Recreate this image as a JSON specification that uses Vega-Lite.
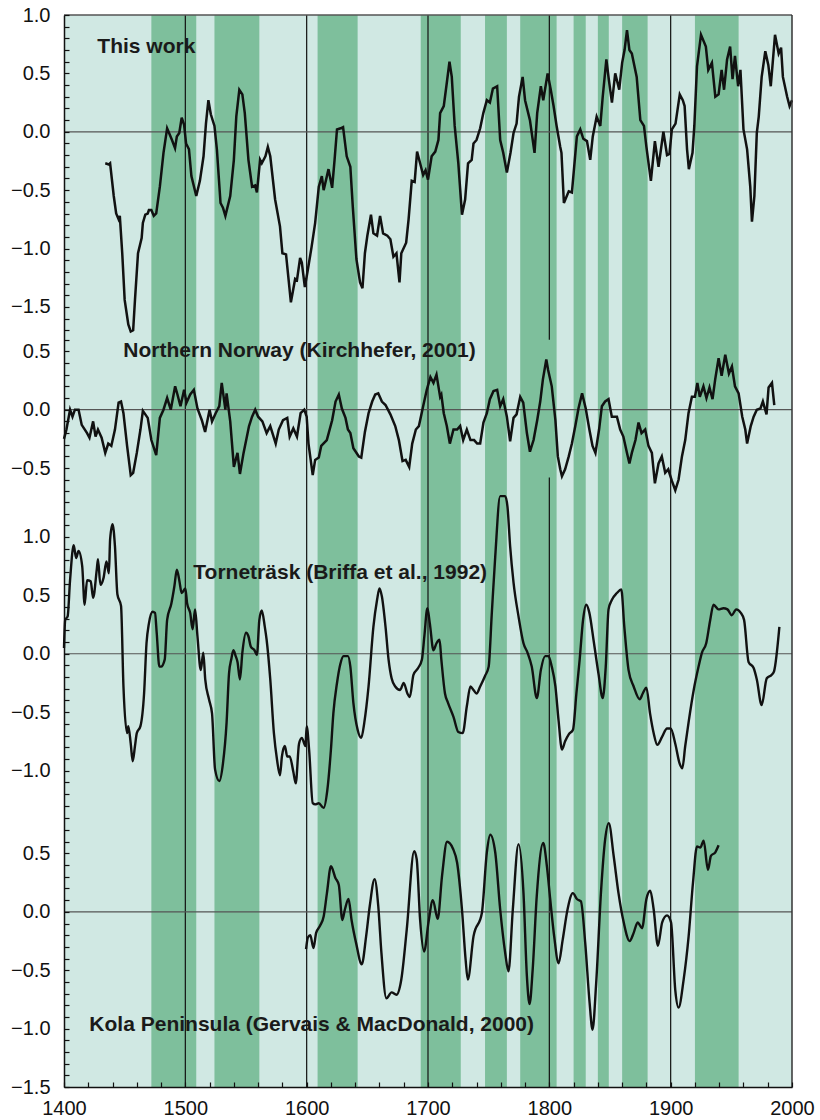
{
"$schema": "https://vega.github.io/schema/vega-lite/v6.json",
"width": 728, "height": 1072,
"autosize": {"type": "none"},
"padding": {"left": 64, "top": 15, "right": 28, "bottom": 33},
"background": "white",
"config": {"view": {"stroke": null, "fill": "#d0e8e3"}, "font": "Liberation Sans"},
"datasets": {
"bands": [{"year":1472,"year2":1509},{"year":1524,"year2":1561},{"year":1609,"year2":1642},{"year":1694,"year2":1727},{"year":1747,"year2":1765},{"year":1776,"year2":1806},{"year":1820,"year2":1830},{"year":1840,"year2":1849},{"year":1860,"year2":1881},{"year":1920,"year2":1956}],
"frame": [{"year":1400,"year2":2000}],
"s1": [{"year":1434,"v":-0.27},{"year":1437,"v":-0.28},{"year":1438,"v":-0.27},{"year":1441,"v":-0.55},{"year":1443,"v":-0.70},{"year":1445,"v":-0.75},{"year":1446,"v":-0.72},{"year":1448,"v":-1.04},{"year":1450,"v":-1.44},{"year":1453,"v":-1.65},{"year":1455,"v":-1.71},{"year":1457,"v":-1.70},{"year":1458.5,"v":-1.44},{"year":1461,"v":-1.04},{"year":1464,"v":-0.91},{"year":1465,"v":-0.78},{"year":1467,"v":-0.71},{"year":1469,"v":-0.70},{"year":1470,"v":-0.67},{"year":1472,"v":-0.67},{"year":1474,"v":-0.72},{"year":1476,"v":-0.70},{"year":1479,"v":-0.47},{"year":1482,"v":-0.18},{"year":1485,"v":0.03},{"year":1489,"v":-0.07},{"year":1491.5,"v":-0.14},{"year":1493,"v":-0.04},{"year":1495,"v":-0.01},{"year":1497,"v":0.12},{"year":1499,"v":0.06},{"year":1500.6,"v":-0.10},{"year":1503,"v":-0.15},{"year":1505,"v":-0.38},{"year":1509,"v":-0.55},{"year":1512,"v":-0.42},{"year":1515,"v":-0.21},{"year":1517,"v":0.07},{"year":1519,"v":0.27},{"year":1521,"v":0.15},{"year":1524,"v":0.05},{"year":1526,"v":-0.15},{"year":1529,"v":-0.61},{"year":1531,"v":-0.65},{"year":1533,"v":-0.72},{"year":1537,"v":-0.55},{"year":1540,"v":-0.24},{"year":1542,"v":0.13},{"year":1544.5,"v":0.36},{"year":1547,"v":0.32},{"year":1549,"v":0.16},{"year":1552,"v":-0.24},{"year":1555,"v":-0.47},{"year":1557.5,"v":-0.46},{"year":1559,"v":-0.52},{"year":1561.6,"v":-0.24},{"year":1563,"v":-0.27},{"year":1566,"v":-0.21},{"year":1568,"v":-0.13},{"year":1570,"v":-0.21},{"year":1574,"v":-0.58},{"year":1578,"v":-0.81},{"year":1580,"v":-1.04},{"year":1583,"v":-1.05},{"year":1587,"v":-1.46},{"year":1590.5,"v":-1.26},{"year":1592,"v":-1.27},{"year":1594.6,"v":-1.08},{"year":1596,"v":-1.12},{"year":1598.5,"v":-1.33},{"year":1601,"v":-1.18},{"year":1604,"v":-0.99},{"year":1607,"v":-0.78},{"year":1610,"v":-0.47},{"year":1612.5,"v":-0.38},{"year":1614,"v":-0.50},{"year":1618,"v":-0.32},{"year":1621,"v":-0.48},{"year":1623,"v":-0.24},{"year":1625,"v":0.02},{"year":1628,"v":0.03},{"year":1630,"v":0.04},{"year":1633,"v":-0.21},{"year":1636,"v":-0.30},{"year":1638,"v":-0.64},{"year":1641,"v":-1.09},{"year":1644,"v":-1.29},{"year":1646,"v":-1.34},{"year":1648,"v":-1.04},{"year":1650,"v":-0.89},{"year":1653,"v":-0.71},{"year":1655,"v":-0.87},{"year":1658,"v":-0.89},{"year":1660.5,"v":-0.72},{"year":1663,"v":-0.87},{"year":1666.5,"v":-0.89},{"year":1669,"v":-0.92},{"year":1671.5,"v":-1.07},{"year":1674,"v":-1.04},{"year":1676.5,"v":-1.29},{"year":1678,"v":-1.04},{"year":1682,"v":-0.95},{"year":1684,"v":-0.75},{"year":1686.6,"v":-0.42},{"year":1689,"v":-0.43},{"year":1691,"v":-0.17},{"year":1693.5,"v":-0.27},{"year":1696,"v":-0.37},{"year":1698,"v":-0.33},{"year":1700,"v":-0.41},{"year":1703,"v":-0.21},{"year":1706,"v":-0.17},{"year":1708.6,"v":-0.07},{"year":1710,"v":0.16},{"year":1713,"v":0.22},{"year":1715.5,"v":0.42},{"year":1717.7,"v":0.60},{"year":1719.6,"v":0.47},{"year":1722,"v":0.05},{"year":1725,"v":-0.27},{"year":1728,"v":-0.71},{"year":1730.6,"v":-0.58},{"year":1733,"v":-0.27},{"year":1736,"v":-0.24},{"year":1737.5,"v":-0.10},{"year":1740,"v":-0.07},{"year":1743,"v":0.03},{"year":1745.6,"v":0.16},{"year":1748.5,"v":0.27},{"year":1751,"v":0.25},{"year":1753.5,"v":0.37},{"year":1757,"v":0.39},{"year":1759.5,"v":-0.07},{"year":1762,"v":-0.18},{"year":1765,"v":-0.35},{"year":1768,"v":-0.18},{"year":1770.5,"v":-0.01},{"year":1773,"v":0.07},{"year":1775,"v":0.30},{"year":1778,"v":0.47},{"year":1780,"v":0.27},{"year":1784,"v":0.10},{"year":1787.8,"v":-0.18},{"year":1790,"v":0.16},{"year":1793,"v":0.39},{"year":1795,"v":0.27},{"year":1798.6,"v":0.50},{"year":1801,"v":0.37},{"year":1803.5,"v":0.22},{"year":1806,"v":0.05},{"year":1809,"v":-0.13},{"year":1810,"v":-0.18},{"year":1812,"v":-0.61},{"year":1816,"v":-0.51},{"year":1818.6,"v":-0.52},{"year":1822.7,"v":-0.04},{"year":1825.5,"v":0.02},{"year":1828,"v":-0.06},{"year":1831,"v":-0.08},{"year":1833.7,"v":-0.24},{"year":1835.8,"v":-0.04},{"year":1839,"v":0.13},{"year":1842,"v":0.05},{"year":1844,"v":0.30},{"year":1847,"v":0.62},{"year":1849,"v":0.45},{"year":1851.6,"v":0.25},{"year":1854.3,"v":0.50},{"year":1857.6,"v":0.36},{"year":1860,"v":0.59},{"year":1862,"v":0.70},{"year":1864,"v":0.87},{"year":1866,"v":0.70},{"year":1868,"v":0.67},{"year":1870,"v":0.57},{"year":1872,"v":0.47},{"year":1875,"v":0.10},{"year":1878,"v":0.05},{"year":1880,"v":-0.13},{"year":1883.7,"v":-0.42},{"year":1887,"v":-0.08},{"year":1890,"v":-0.30},{"year":1894,"v":0.00},{"year":1897,"v":-0.20},{"year":1899,"v":-0.19},{"year":1901,"v":0.02},{"year":1904,"v":0.07},{"year":1907.5,"v":0.32},{"year":1910,"v":0.27},{"year":1911.5,"v":0.22},{"year":1913.5,"v":-0.15},{"year":1915,"v":-0.32},{"year":1918,"v":-0.18},{"year":1919.5,"v":0.05},{"year":1921.7,"v":0.56},{"year":1925,"v":0.83},{"year":1929,"v":0.73},{"year":1931,"v":0.53},{"year":1934,"v":0.59},{"year":1936.8,"v":0.30},{"year":1939.5,"v":0.32},{"year":1942,"v":0.53},{"year":1944,"v":0.36},{"year":1946.5,"v":0.62},{"year":1949,"v":0.73},{"year":1951,"v":0.45},{"year":1953,"v":0.65},{"year":1955.6,"v":0.39},{"year":1957.5,"v":0.53},{"year":1960,"v":0.02},{"year":1963,"v":-0.15},{"year":1965.6,"v":-0.47},{"year":1967,"v":-0.77},{"year":1969,"v":-0.55},{"year":1971,"v":-0.01},{"year":1972.6,"v":0.13},{"year":1975,"v":0.47},{"year":1978,"v":0.69},{"year":1980.5,"v":0.57},{"year":1982.5,"v":0.39},{"year":1986,"v":0.83},{"year":1989,"v":0.67},{"year":1991,"v":0.72},{"year":1992.5,"v":0.47},{"year":1996,"v":0.30},{"year":1998,"v":0.22},{"year":2000,"v":0.27}],
"s2": [{"year":1400,"v":-0.25},{"year":1402,"v":-0.17},{"year":1405,"v":0.0},{"year":1407,"v":-0.06},{"year":1409,"v":0.0},{"year":1412,"v":0.0},{"year":1414.6,"v":-0.13},{"year":1419,"v":-0.20},{"year":1421,"v":-0.24},{"year":1424,"v":-0.10},{"year":1426,"v":-0.23},{"year":1428,"v":-0.17},{"year":1431,"v":-0.24},{"year":1434,"v":-0.37},{"year":1436.5,"v":-0.29},{"year":1439,"v":-0.31},{"year":1442,"v":-0.17},{"year":1445,"v":0.06},{"year":1447,"v":0.07},{"year":1449,"v":-0.03},{"year":1452,"v":-0.31},{"year":1455,"v":-0.56},{"year":1457,"v":-0.54},{"year":1460,"v":-0.37},{"year":1463,"v":-0.17},{"year":1465,"v":-0.01},{"year":1469,"v":-0.07},{"year":1472,"v":-0.26},{"year":1476,"v":-0.39},{"year":1479,"v":-0.07},{"year":1482,"v":0.0},{"year":1485,"v":0.10},{"year":1488,"v":0.0},{"year":1491.6,"v":0.20},{"year":1493.5,"v":0.13},{"year":1496,"v":0.03},{"year":1499,"v":0.17},{"year":1501,"v":0.06},{"year":1504,"v":0.13},{"year":1507,"v":0.17},{"year":1510,"v":0.01},{"year":1513.6,"v":-0.09},{"year":1516.3,"v":-0.19},{"year":1520,"v":0.0},{"year":1522,"v":-0.10},{"year":1525,"v":-0.03},{"year":1528,"v":0.03},{"year":1530,"v":0.23},{"year":1533,"v":0.0},{"year":1534,"v":0.14},{"year":1537,"v":-0.10},{"year":1540,"v":-0.49},{"year":1543,"v":-0.37},{"year":1545,"v":-0.55},{"year":1548,"v":-0.37},{"year":1552.5,"v":-0.14},{"year":1555,"v":-0.06},{"year":1557.6,"v":0.0},{"year":1560,"v":-0.06},{"year":1563.5,"v":-0.10},{"year":1567,"v":-0.20},{"year":1570,"v":-0.14},{"year":1574.5,"v":-0.29},{"year":1577,"v":-0.17},{"year":1580.5,"v":-0.09},{"year":1584,"v":-0.07},{"year":1586,"v":-0.23},{"year":1589,"v":-0.16},{"year":1592,"v":-0.23},{"year":1595,"v":-0.03},{"year":1598,"v":0.0},{"year":1600,"v":-0.06},{"year":1601.5,"v":-0.29},{"year":1605,"v":-0.56},{"year":1607,"v":-0.43},{"year":1610,"v":-0.41},{"year":1612,"v":-0.31},{"year":1616.6,"v":-0.26},{"year":1621,"v":-0.09},{"year":1623.8,"v":0.07},{"year":1626.5,"v":0.13},{"year":1629,"v":0.01},{"year":1632,"v":-0.07},{"year":1634,"v":-0.17},{"year":1636,"v":-0.20},{"year":1638.5,"v":-0.33},{"year":1643,"v":-0.40},{"year":1645,"v":-0.41},{"year":1648,"v":-0.19},{"year":1651,"v":-0.03},{"year":1654,"v":0.07},{"year":1656.5,"v":0.13},{"year":1659,"v":0.14},{"year":1662,"v":0.07},{"year":1665,"v":0.04},{"year":1669,"v":-0.04},{"year":1673,"v":-0.14},{"year":1676,"v":-0.26},{"year":1679,"v":-0.44},{"year":1681.6,"v":-0.43},{"year":1684.5,"v":-0.49},{"year":1687,"v":-0.29},{"year":1690,"v":-0.17},{"year":1692.5,"v":-0.14},{"year":1696,"v":0.03},{"year":1699,"v":0.17},{"year":1702,"v":0.28},{"year":1704.5,"v":0.23},{"year":1707,"v":0.30},{"year":1710,"v":0.11},{"year":1711,"v":0.13},{"year":1713,"v":-0.03},{"year":1715.5,"v":-0.14},{"year":1718,"v":-0.29},{"year":1721,"v":-0.17},{"year":1724,"v":-0.17},{"year":1726.5,"v":-0.14},{"year":1729,"v":-0.26},{"year":1732,"v":-0.17},{"year":1735,"v":-0.26},{"year":1738,"v":-0.26},{"year":1740.5,"v":-0.29},{"year":1743,"v":-0.29},{"year":1745.7,"v":-0.11},{"year":1748.5,"v":-0.03},{"year":1751,"v":0.09},{"year":1754,"v":0.16},{"year":1757,"v":0.17},{"year":1759.5,"v":0.03},{"year":1762,"v":0.09},{"year":1765,"v":-0.06},{"year":1767.7,"v":-0.27},{"year":1770.5,"v":-0.07},{"year":1773,"v":-0.04},{"year":1776,"v":0.11},{"year":1778.5,"v":0.06},{"year":1781.5,"v":-0.20},{"year":1784,"v":-0.36},{"year":1787,"v":-0.26},{"year":1790,"v":-0.09},{"year":1792.5,"v":0.07},{"year":1794.7,"v":0.26},{"year":1797.5,"v":0.43},{"year":1799,"v":0.34},{"year":1802,"v":0.20},{"year":1805,"v":-0.09},{"year":1807,"v":-0.40},{"year":1809,"v":-0.51},{"year":1810.4,"v":-0.57},{"year":1813,"v":-0.51},{"year":1816,"v":-0.40},{"year":1818.6,"v":-0.29},{"year":1821.4,"v":-0.14},{"year":1824,"v":0.01},{"year":1827,"v":0.14},{"year":1830,"v":0.01},{"year":1833,"v":-0.17},{"year":1835.6,"v":-0.31},{"year":1838,"v":-0.37},{"year":1841,"v":-0.17},{"year":1843.3,"v":0.03},{"year":1846,"v":0.07},{"year":1848.8,"v":0.09},{"year":1851.5,"v":-0.06},{"year":1855.7,"v":-0.06},{"year":1858.4,"v":-0.17},{"year":1861,"v":-0.23},{"year":1864,"v":-0.37},{"year":1866,"v":-0.46},{"year":1868,"v":-0.37},{"year":1871,"v":-0.26},{"year":1873.5,"v":-0.11},{"year":1876,"v":-0.20},{"year":1879,"v":-0.17},{"year":1881.7,"v":-0.31},{"year":1884.5,"v":-0.37},{"year":1887,"v":-0.63},{"year":1890,"v":-0.46},{"year":1892.7,"v":-0.40},{"year":1895.5,"v":-0.54},{"year":1898,"v":-0.51},{"year":1901,"v":-0.61},{"year":1903.8,"v":-0.69},{"year":1906.5,"v":-0.60},{"year":1909.3,"v":-0.40},{"year":1912,"v":-0.26},{"year":1914.7,"v":-0.03},{"year":1917.5,"v":0.11},{"year":1920,"v":0.11},{"year":1922,"v":0.23},{"year":1924,"v":0.11},{"year":1927,"v":0.20},{"year":1929.5,"v":0.10},{"year":1932,"v":0.19},{"year":1934.5,"v":0.09},{"year":1936.7,"v":0.26},{"year":1939.5,"v":0.44},{"year":1942,"v":0.29},{"year":1945,"v":0.47},{"year":1948,"v":0.31},{"year":1950.5,"v":0.37},{"year":1953,"v":0.20},{"year":1956,"v":0.14},{"year":1959,"v":-0.06},{"year":1961.5,"v":-0.17},{"year":1963,"v":-0.29},{"year":1966,"v":-0.14},{"year":1968.4,"v":-0.06},{"year":1971,"v":0.0},{"year":1974,"v":0.01},{"year":1976,"v":0.07},{"year":1979,"v":-0.04},{"year":1980.7,"v":0.19},{"year":1983.5,"v":0.23},{"year":1985.4,"v":0.04}],
"s3": [{"year":1400,"v":0.05},{"year":1401,"v":0.29},{"year":1403,"v":0.32},{"year":1405,"v":0.63},{"year":1408,"v":0.93},{"year":1410,"v":0.82},{"year":1412,"v":0.88},{"year":1415,"v":0.75},{"year":1417,"v":0.42},{"year":1419,"v":0.63},{"year":1422,"v":0.62},{"year":1424,"v":0.48},{"year":1427,"v":0.72},{"year":1428,"v":0.81},{"year":1430,"v":0.59},{"year":1432.6,"v":0.65},{"year":1435,"v":0.79},{"year":1437,"v":0.69},{"year":1438,"v":0.98},{"year":1440,"v":1.11},{"year":1442,"v":0.92},{"year":1444,"v":0.51},{"year":1447,"v":0.41},{"year":1449,"v":-0.28},{"year":1452,"v":-0.68},{"year":1453,"v":-0.62},{"year":1455,"v":-0.77},{"year":1456.6,"v":-0.92},{"year":1458.5,"v":-0.79},{"year":1460,"v":-0.68},{"year":1463,"v":-0.62},{"year":1466,"v":-0.34},{"year":1468,"v":0.09},{"year":1470,"v":0.26},{"year":1473,"v":0.36},{"year":1475,"v":0.35},{"year":1476.4,"v":0.18},{"year":1478.6,"v":-0.11},{"year":1480,"v":-0.11},{"year":1483,"v":-0.05},{"year":1485,"v":0.29},{"year":1488.5,"v":0.43},{"year":1491,"v":0.58},{"year":1493,"v":0.72},{"year":1495,"v":0.63},{"year":1497,"v":0.52},{"year":1500,"v":0.56},{"year":1501.5,"v":0.43},{"year":1504,"v":0.35},{"year":1506,"v":0.21},{"year":1508,"v":0.38},{"year":1510,"v":0.15},{"year":1512.7,"v":-0.14},{"year":1514.8,"v":0.01},{"year":1516.4,"v":-0.22},{"year":1519.5,"v":-0.39},{"year":1522,"v":-0.51},{"year":1524.5,"v":-0.99},{"year":1528,"v":-1.09},{"year":1531,"v":-0.94},{"year":1534,"v":-0.59},{"year":1536,"v":-0.17},{"year":1538,"v":-0.04},{"year":1539.6,"v":0.03},{"year":1541.5,"v":-0.02},{"year":1543,"v":-0.07},{"year":1545,"v":-0.22},{"year":1547,"v":0.01},{"year":1550,"v":0.18},{"year":1552,"v":0.15},{"year":1554,"v":0.06},{"year":1557,"v":0.03},{"year":1559,"v":-0.01},{"year":1561,"v":0.29},{"year":1563,"v":0.37},{"year":1565.5,"v":0.23},{"year":1567,"v":0.12},{"year":1570,"v":-0.22},{"year":1573,"v":-0.68},{"year":1575.6,"v":-0.91},{"year":1578,"v":-1.04},{"year":1579.6,"v":-0.88},{"year":1582,"v":-0.79},{"year":1584,"v":-0.88},{"year":1586,"v":-0.88},{"year":1589,"v":-1.01},{"year":1591,"v":-1.11},{"year":1593.7,"v":-0.77},{"year":1596,"v":-0.72},{"year":1599,"v":-0.79},{"year":1600,"v":-0.62},{"year":1602,"v":-0.82},{"year":1605,"v":-1.28},{"year":1607,"v":-1.29},{"year":1610,"v":-1.28},{"year":1614,"v":-1.32},{"year":1617,"v":-1.17},{"year":1620,"v":-0.82},{"year":1622,"v":-0.51},{"year":1625,"v":-0.25},{"year":1627.7,"v":-0.09},{"year":1630.4,"v":-0.02},{"year":1634,"v":-0.02},{"year":1636,"v":-0.11},{"year":1638.5,"v":-0.42},{"year":1642,"v":-0.65},{"year":1645,"v":-0.72},{"year":1647.5,"v":-0.59},{"year":1651,"v":-0.28},{"year":1655,"v":0.23},{"year":1658,"v":0.46},{"year":1660,"v":0.56},{"year":1662,"v":0.49},{"year":1665,"v":0.23},{"year":1667.5,"v":-0.05},{"year":1670,"v":-0.21},{"year":1673,"v":-0.28},{"year":1677,"v":-0.31},{"year":1680,"v":-0.25},{"year":1683,"v":-0.34},{"year":1685,"v":-0.37},{"year":1688,"v":-0.18},{"year":1692,"v":-0.12},{"year":1695,"v":-0.05},{"year":1697,"v":0.15},{"year":1699.5,"v":0.39},{"year":1701.5,"v":0.26},{"year":1704.5,"v":0.03},{"year":1707,"v":0.09},{"year":1709.5,"v":0.12},{"year":1711,"v":-0.05},{"year":1714,"v":-0.34},{"year":1716.5,"v":-0.42},{"year":1721,"v":-0.54},{"year":1725,"v":-0.67},{"year":1728.6,"v":-0.68},{"year":1732,"v":-0.45},{"year":1735,"v":-0.28},{"year":1737.5,"v":-0.31},{"year":1740,"v":-0.34},{"year":1743,"v":-0.28},{"year":1747,"v":-0.19},{"year":1750,"v":-0.11},{"year":1752.6,"v":0.35},{"year":1755.4,"v":0.83},{"year":1759.5,"v":1.35},{"year":1763.6,"v":1.35},{"year":1765.5,"v":1.26},{"year":1767.7,"v":0.92},{"year":1770.5,"v":0.61},{"year":1774.6,"v":0.32},{"year":1778.7,"v":0.09},{"year":1782,"v":0.01},{"year":1785.5,"v":-0.11},{"year":1789.7,"v":-0.38},{"year":1793,"v":-0.14},{"year":1796.6,"v":-0.02},{"year":1799.3,"v":-0.02},{"year":1802,"v":-0.11},{"year":1805,"v":-0.28},{"year":1807.6,"v":-0.57},{"year":1810.4,"v":-0.82},{"year":1813,"v":-0.75},{"year":1816,"v":-0.69},{"year":1819.5,"v":-0.65},{"year":1822.3,"v":-0.34},{"year":1825,"v":-0.05},{"year":1827.8,"v":0.29},{"year":1830.4,"v":0.42},{"year":1833,"v":0.35},{"year":1836.4,"v":0.12},{"year":1840.5,"v":-0.17},{"year":1844,"v":-0.38},{"year":1846.5,"v":-0.11},{"year":1848.8,"v":0.38},{"year":1851.5,"v":0.46},{"year":1855.7,"v":0.52},{"year":1859.3,"v":0.55},{"year":1861.8,"v":0.23},{"year":1865.3,"v":-0.14},{"year":1869.5,"v":-0.28},{"year":1874.5,"v":-0.39},{"year":1877,"v":-0.34},{"year":1880,"v":-0.29},{"year":1883,"v":-0.51},{"year":1886,"v":-0.68},{"year":1889,"v":-0.78},{"year":1893,"v":-0.71},{"year":1897,"v":-0.64},{"year":1900,"v":-0.64},{"year":1903.8,"v":-0.77},{"year":1907.4,"v":-0.94},{"year":1909.6,"v":-0.98},{"year":1912,"v":-0.79},{"year":1915,"v":-0.57},{"year":1919,"v":-0.31},{"year":1923,"v":-0.11},{"year":1925.8,"v":0.01},{"year":1929.3,"v":0.09},{"year":1932.6,"v":0.29},{"year":1935.3,"v":0.42},{"year":1939.4,"v":0.38},{"year":1943.5,"v":0.39},{"year":1946.8,"v":0.38},{"year":1950.4,"v":0.33},{"year":1954,"v":0.38},{"year":1957.8,"v":0.35},{"year":1960.5,"v":0.29},{"year":1964.2,"v":-0.07},{"year":1968.3,"v":-0.12},{"year":1971,"v":-0.22},{"year":1975,"v":-0.44},{"year":1979.2,"v":-0.21},{"year":1983.3,"v":-0.18},{"year":1985.2,"v":-0.15},{"year":1989.6,"v":0.23}],
"s4": [{"year":1599.5,"v":-0.32},{"year":1601,"v":-0.22},{"year":1603,"v":-0.20},{"year":1605.6,"v":-0.31},{"year":1607.8,"v":-0.18},{"year":1611,"v":-0.12},{"year":1614,"v":-0.04},{"year":1616.7,"v":0.16},{"year":1620,"v":0.39},{"year":1623.7,"v":0.29},{"year":1626.5,"v":0.23},{"year":1629.4,"v":-0.07},{"year":1631.5,"v":0.02},{"year":1634.5,"v":0.11},{"year":1637,"v":-0.07},{"year":1640.8,"v":-0.27},{"year":1645.4,"v":-0.45},{"year":1649,"v":-0.21},{"year":1652,"v":0.05},{"year":1656,"v":0.28},{"year":1659,"v":0.05},{"year":1661.6,"v":-0.35},{"year":1665.7,"v":-0.74},{"year":1670,"v":-0.69},{"year":1674,"v":-0.71},{"year":1678,"v":-0.58},{"year":1682.5,"v":-0.15},{"year":1688.6,"v":0.52},{"year":1690.7,"v":0.45},{"year":1693.5,"v":-0.07},{"year":1696.8,"v":-0.34},{"year":1700.4,"v":-0.09},{"year":1704,"v":0.10},{"year":1708,"v":-0.06},{"year":1711.6,"v":0.31},{"year":1715.7,"v":0.60},{"year":1720.6,"v":0.54},{"year":1724,"v":0.42},{"year":1728,"v":0.02},{"year":1731,"v":-0.41},{"year":1732.8,"v":-0.58},{"year":1737.5,"v":-0.21},{"year":1744.4,"v":-0.01},{"year":1748.5,"v":0.51},{"year":1751.3,"v":0.66},{"year":1755.4,"v":0.51},{"year":1759.5,"v":0.02},{"year":1763.6,"v":-0.35},{"year":1766.3,"v":-0.51},{"year":1769.9,"v":0.02},{"year":1774.6,"v":0.58},{"year":1778.7,"v":0.16},{"year":1781.5,"v":-0.55},{"year":1783.7,"v":-0.79},{"year":1786.3,"v":-0.49},{"year":1789.6,"v":0.13},{"year":1795,"v":0.59},{"year":1798,"v":0.39},{"year":1800.7,"v":0.11},{"year":1804,"v":-0.21},{"year":1807.6,"v":-0.44},{"year":1811,"v":-0.24},{"year":1815,"v":0.02},{"year":1819.4,"v":0.16},{"year":1822.7,"v":0.11},{"year":1826,"v":0.09},{"year":1829.6,"v":-0.27},{"year":1833.2,"v":-0.78},{"year":1835.6,"v":-1.01},{"year":1838.6,"v":-0.61},{"year":1842.7,"v":0.19},{"year":1846,"v":0.62},{"year":1849,"v":0.76},{"year":1853,"v":0.48},{"year":1857,"v":0.16},{"year":1861.3,"v":-0.09},{"year":1866.2,"v":-0.25},{"year":1869.5,"v":-0.18},{"year":1872.8,"v":-0.09},{"year":1876.4,"v":-0.14},{"year":1880,"v":0.11},{"year":1883.2,"v":0.18},{"year":1886,"v":0.02},{"year":1889.5,"v":-0.29},{"year":1893,"v":-0.09},{"year":1897,"v":-0.03},{"year":1900.3,"v":-0.09},{"year":1903.8,"v":-0.67},{"year":1906.5,"v":-0.82},{"year":1910.7,"v":-0.58},{"year":1914.8,"v":-0.21},{"year":1918.4,"v":0.25},{"year":1921.7,"v":0.56},{"year":1924.4,"v":0.55},{"year":1927.2,"v":0.61},{"year":1930.7,"v":0.36},{"year":1933.2,"v":0.48},{"year":1936.8,"v":0.51},{"year":1939.5,"v":0.57}]
},
"resolve": {"scale": {"y": "independent"}, "axis": {"y": "independent"}},
"encoding": {
  "x": {"field": "year", "type": "quantitative", "title": null,
    "scale": {"domain": [1400, 2000], "nice": false, "zero": false},
    "axis": {"values": [1400,1420,1440,1460,1480,1500,1520,1540,1560,1580,1600,1620,1640,1660,1680,1700,1720,1740,1760,1780,1800,1820,1840,1860,1880,1900,1920,1940,1960,1980,2000],
      "format": "d", "labelExpr": "datum.value % 100 === 0 ? datum.label : ''",
      "tickSize": -5, "tickColor": "#111", "tickWidth": 1.2, "labelPadding": 16, "labelFlush": false, "labelOverlap": false,
      "labelFont": "Liberation Sans", "labelFontSize": 20, "labelColor": "#111",
      "domainColor": "#111", "domainWidth": 1.5, "grid": false, "zindex": 1}}
},
"layer": [
  {"data": {"name": "bands"}, "mark": {"type": "rect", "color": "#7ebf9c"}, "encoding": {"x2": {"field": "year2"}}},
  {"data": {"values": [{"year": 1500}, {"year": 1600}, {"year": 1700}, {"year": 1900}]}, "mark": {"type": "rule", "color": "#111", "strokeWidth": 1.2}, "encoding": {}},
  {"data": {"values": [{"year": 1800, "a": 1.0, "b": -1.78}, {"year": 1800, "a": -2.96, "b": -8.18}]}, "mark": {"type": "rule", "color": "#111", "strokeWidth": 1.2},
   "encoding": {"y": {"field": "a", "type": "quantitative", "scale": {"domain": [-8.18, 1.0], "nice": false, "zero": false}, "axis": null}, "y2": {"field": "b"}}},

  {"data": {"name": "frame"}, "mark": {"type": "rule", "color": "#555", "strokeWidth": 1.2},
   "encoding": {"x2": {"field": "year2"}, "y": {"datum": 0, "type": "quantitative", "scale": {"domain": [-8.18, 1.0], "nice": false, "zero": false}, "axis": null}}},
  {"data": {"name": "s1"}, "mark": {"type": "line", "color": "#111", "strokeWidth": 2.5},
   "encoding": {"y": {"field": "v", "type": "quantitative", "scale": {"domain": [-8.18, 1.0], "nice": false, "zero": false},
     "axis": {"orient": "left", "title": null, "grid": false, "values": [1.0,0.9,0.8,0.7,0.6,0.5,0.4,0.3,0.2,0.1,0,-0.1,-0.2,-0.3,-0.4,-0.5,-0.6,-0.7,-0.8,-0.9,-1.0,-1.1,-1.2,-1.3,-1.4,-1.5,-1.6,-1.7],
       "labelExpr": "abs(datum.value*2 - round(datum.value*2)) < 0.001 ? format(datum.value, '.1f') : ''",
       "tickSize": -5, "tickColor": "#111", "tickWidth": 1.2, "labelPadding": 19, "labelOverlap": false,
       "labelFont": "Liberation Sans", "labelFontSize": 20, "labelColor": "#111",
       "domain": true, "domainColor": "#111", "domainWidth": 1.5, "zindex": 1}}}},
  {"data": {"values": [{"year": 1427.5, "v": 0.677, "label": "This work"}]}, "mark": {"type": "text", "align": "left", "baseline": "alphabetic", "font": "Liberation Sans", "fontSize": 21, "fontWeight": "bold", "color": "#1a1a1a"},
   "encoding": {"text": {"field": "label"}, "y": {"field": "v", "type": "quantitative", "scale": {"domain": [-8.18, 1.0], "nice": false, "zero": false}, "axis": null}}},

  {"data": {"name": "frame"}, "mark": {"type": "rule", "color": "#555", "strokeWidth": 1.2},
   "encoding": {"x2": {"field": "year2"}, "y": {"datum": 0, "type": "quantitative", "scale": {"domain": [-5.8, 3.38], "nice": false, "zero": false}, "axis": null}}},
  {"data": {"name": "s2"}, "mark": {"type": "line", "color": "#111", "strokeWidth": 2.5},
   "encoding": {"y": {"field": "v", "type": "quantitative", "scale": {"domain": [-5.8, 3.38], "nice": false, "zero": false},
     "axis": {"orient": "left", "title": null, "grid": false, "values": [0.6,0.5,0.4,0.3,0.2,0.1,0,-0.1,-0.2,-0.3,-0.4,-0.5,-0.6,-0.7],
       "labelExpr": "abs(datum.value*2 - round(datum.value*2)) < 0.001 ? format(datum.value, '.1f') : ''",
       "tickSize": -5, "tickColor": "#111", "tickWidth": 1.2, "labelPadding": 19, "labelOverlap": false,
       "labelFont": "Liberation Sans", "labelFontSize": 20, "labelColor": "#111",
       "domain": false, "zindex": 1}}}},
  {"data": {"values": [{"year": 1448.9, "v": 0.454, "label": "Northern Norway (Kirchhefer, 2001)"}]}, "mark": {"type": "text", "align": "left", "baseline": "alphabetic", "font": "Liberation Sans", "fontSize": 21, "fontWeight": "bold", "color": "#1a1a1a"},
   "encoding": {"text": {"field": "label"}, "y": {"field": "v", "type": "quantitative", "scale": {"domain": [-5.8, 3.38], "nice": false, "zero": false}, "axis": null}}},

  {"data": {"name": "frame"}, "mark": {"type": "rule", "color": "#555", "strokeWidth": 1.2},
   "encoding": {"x2": {"field": "year2"}, "y": {"datum": 0, "type": "quantitative", "scale": {"domain": [-3.71, 5.47], "nice": false, "zero": false}, "axis": null}}},
  {"data": {"name": "s3"}, "mark": {"type": "line", "color": "#111", "strokeWidth": 2.4, "interpolate": "monotone"},
   "encoding": {"y": {"field": "v", "type": "quantitative", "scale": {"domain": [-3.71, 5.47], "nice": false, "zero": false},
     "axis": {"orient": "left", "title": null, "grid": false, "values": [1.3,1.2,1.1,1.0,0.9,0.8,0.7,0.6,0.5,0.4,0.3,0.2,0.1,0,-0.1,-0.2,-0.3,-0.4,-0.5,-0.6,-0.7,-0.8,-0.9,-1.0,-1.1,-1.2,-1.3],
       "labelExpr": "abs(datum.value*2 - round(datum.value*2)) < 0.001 ? format(datum.value, '.1f') : ''",
       "tickSize": -5, "tickColor": "#111", "tickWidth": 1.2, "labelPadding": 19, "labelOverlap": false,
       "labelFont": "Liberation Sans", "labelFontSize": 20, "labelColor": "#111",
       "domain": false, "zindex": 1}}}},
  {"data": {"values": [{"year": 1506.6, "v": 0.64, "label": "Torneträsk (Briffa et al., 1992)"}]}, "mark": {"type": "text", "align": "left", "baseline": "alphabetic", "font": "Liberation Sans", "fontSize": 21, "fontWeight": "bold", "color": "#1a1a1a"},
   "encoding": {"text": {"field": "label"}, "y": {"field": "v", "type": "quantitative", "scale": {"domain": [-3.71, 5.47], "nice": false, "zero": false}, "axis": null}}},

  {"data": {"name": "frame"}, "mark": {"type": "rule", "color": "#555", "strokeWidth": 1.2},
   "encoding": {"x2": {"field": "year2"}, "y": {"datum": 0, "type": "quantitative", "scale": {"domain": [-1.5, 7.68], "nice": false, "zero": false}, "axis": null}}},
  {"data": {"name": "s4"}, "mark": {"type": "line", "color": "#111", "strokeWidth": 2.4, "interpolate": "monotone"},
   "encoding": {"y": {"field": "v", "type": "quantitative", "scale": {"domain": [-1.5, 7.68], "nice": false, "zero": false},
     "axis": {"orient": "left", "title": null, "grid": false, "values": [0.8,0.7,0.6,0.5,0.4,0.3,0.2,0.1,0,-0.1,-0.2,-0.3,-0.4,-0.5,-0.6,-0.7,-0.8,-0.9,-1.0,-1.1,-1.2,-1.3,-1.4,-1.5],
       "labelExpr": "abs(datum.value*2 - round(datum.value*2)) < 0.001 ? format(datum.value, '.1f') : ''",
       "tickSize": -5, "tickColor": "#111", "tickWidth": 1.2, "labelPadding": 19, "labelOverlap": false,
       "labelFont": "Liberation Sans", "labelFontSize": 20, "labelColor": "#111",
       "domain": false, "zindex": 1}}}},
  {"data": {"values": [{"year": 1420.9, "v": -1.017, "label": "Kola Peninsula (Gervais & MacDonald, 2000)"}]}, "mark": {"type": "text", "align": "left", "baseline": "alphabetic", "font": "Liberation Sans", "fontSize": 21, "fontWeight": "bold", "color": "#1a1a1a"},
   "encoding": {"text": {"field": "label"}, "y": {"field": "v", "type": "quantitative", "scale": {"domain": [-1.5, 7.68], "nice": false, "zero": false}, "axis": null}}},

  {"data": {"name": "frame"}, "mark": {"type": "rule", "color": "#555", "strokeWidth": 1.5},
   "encoding": {"x2": {"field": "year2"}, "y": {"datum": 1.0, "type": "quantitative", "scale": {"domain": [-8.18, 1.0], "nice": false, "zero": false}, "axis": null}}},
  {"data": {"values": [{"year": 2000}]}, "mark": {"type": "rule", "color": "#333", "strokeWidth": 1.5}, "encoding": {}}
]
}
